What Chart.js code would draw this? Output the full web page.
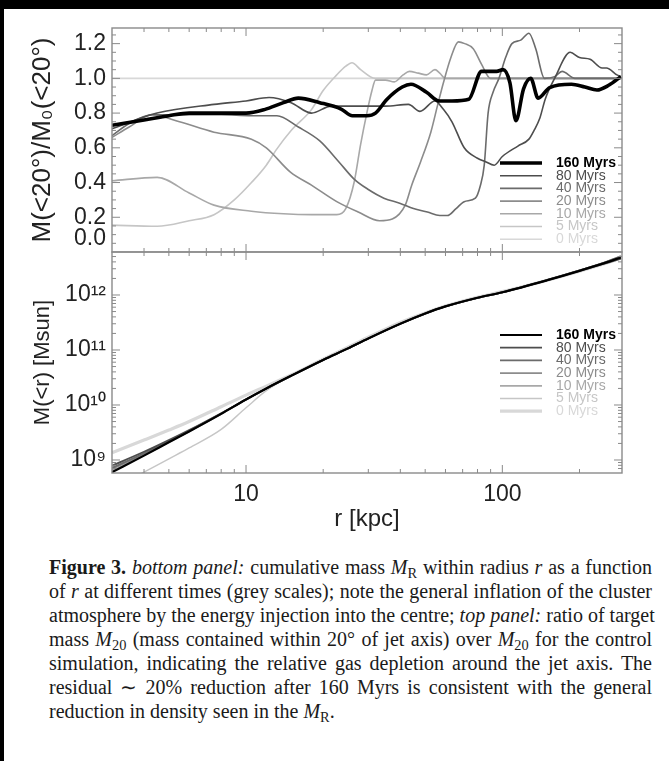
<!DOCTYPE html>
<html>
<head>
<meta charset="utf-8">
<title>Figure 3</title>
<script src="https://cdn.jsdelivr.net/npm/chart.js@4.4.1/dist/chart.umd.min.js"></script>
<style>
  html, body { margin: 0; padding: 0; }
  body { width: 669px; height: 761px; background: #000; position: relative; overflow: hidden; }
  .sheet { position: absolute; left: 4px; top: 9px; right: 0; bottom: 0; background: #fff; }
  #chartBox { position: absolute; left: 0; top: 0; width: 669px; height: 540px; }
  .caption {
    position: absolute; left: 49px; top: 555px; width: 603px;
    font-family: 'Liberation Serif', 'Times New Roman', serif;
    font-size: 20px; line-height: 24px; color: #1a1a1a;
  }
  .caption div { text-align: justify; text-align-last: justify; white-space: nowrap; }
  .caption div.last { text-align-last: left; }
  .caption sub { font-size: 0.72em; line-height: 0; vertical-align: -0.3em; }
</style>
</head>
<body>
<div class="sheet"></div>
<div id="chartBox"><canvas id="massChart" width="669" height="540"></canvas></div>
<div class="caption">
  <div><b>Figure 3.</b> <i>bottom panel:</i> cumulative mass <i>M</i><sub>R</sub> within radius <i>r</i> as a function</div>
  <div>of <i>r</i> at different times (grey scales); note the general inflation of the cluster</div>
  <div>atmosphere by the energy injection into the centre; <i>top panel:</i> ratio of target</div>
  <div>mass <i>M</i><sub>20</sub> (mass contained within 20° of jet axis) over <i>M</i><sub>20</sub> for the control</div>
  <div>simulation, indicating the relative gas depletion around the jet axis. The</div>
  <div>residual ∼ 20% reduction after 160 Myrs is consistent with the general</div>
  <div class="last">reduction in density seen in the <i>M</i><sub>R</sub>.</div>
</div>
<script>
  const TIME_LABELS = ['160 Myrs', '80 Myrs', '40 Myrs', '20 Myrs', '10 Myrs', '5 Myrs', '0 Myrs'];
  const GREYS = ['#000000', '#4d4d4d', '#6b6b6b', '#8c8c8c', '#a8a8a8', '#c6c6c6', '#d8d8d8'];
  const TOP_WIDTHS = [3.6, 1.6, 1.6, 1.6, 1.6, 1.6, 1.6];
  const BOTTOM_WIDTHS = [2.2, 1.8, 1.8, 1.8, 1.8, 1.4, 3.2];

  // top panel: M(<20°)/M0(<20°) against r [kpc]
  const RATIO_TICKS = [0, 0.2, 0.4, 0.6, 0.8, 1.0, 1.2];

  const r160 = [3, 4, 5, 6, 8, 10, 11.8, 14, 16, 19.4, 23.5, 26, 29.6, 32, 35.5, 40.7, 44, 50.6, 56.7, 63.6, 74, 83, 95, 100.7, 107, 113, 121, 129, 138, 153, 186, 210, 234, 260, 290];
  const ratio160 = [0.73, 0.76, 0.785, 0.80, 0.80, 0.80, 0.82, 0.86, 0.886, 0.86, 0.823, 0.785, 0.785, 0.80, 0.88, 0.95, 0.966, 0.92, 0.87, 0.87, 0.88, 1.04, 1.04, 1.05, 0.975, 0.756, 0.94, 1.0, 0.886, 0.947, 0.966, 0.95, 0.933, 0.96, 1.01];

  const r80 = [3, 4.5, 7.5, 10, 12.3, 15, 18, 21.5, 28, 35, 43, 47.7, 54.6, 59, 63.6, 71, 80, 86, 93, 100, 115, 127, 133, 140, 147, 160, 184, 200, 220, 245, 255, 280, 290];
  const ratio80 = [0.71, 0.80, 0.85, 0.87, 0.89, 0.86, 0.80, 0.84, 0.84, 0.84, 0.85, 0.81, 0.87, 0.82, 0.75, 0.60, 0.54, 0.52, 0.50, 0.55, 0.61, 0.65, 0.70, 0.77, 0.88, 1.0, 1.15, 1.12, 1.11, 1.06, 1.06, 1.02, 1.01];

  const r40 = [3, 3.5, 4.3, 6, 8, 10.5, 13.2, 16, 19.4, 23, 26.4, 30, 34.5, 40, 45, 51, 57, 61, 66, 71, 78.5, 82, 85, 88, 92, 97, 103, 109, 118, 127, 135, 146, 160, 171, 192, 240, 290];
  const ratio40 = [0.67, 0.74, 0.79, 0.79, 0.79, 0.785, 0.785, 0.72, 0.64, 0.52, 0.42, 0.36, 0.31, 0.28, 0.25, 0.23, 0.21, 0.21, 0.25, 0.29, 0.31, 0.38, 0.5, 0.8, 0.92, 1.0, 1.12, 1.2, 1.22, 1.26, 1.17, 1.0, 1.01, 1.04, 1.0, 1.0, 1.0];

  const r20 = [3, 3.5, 4.3, 5.5, 7.5, 10.5, 12, 14.9, 18, 22.6, 27.4, 33.2, 37.2, 41.8, 44.3, 48, 52.6, 56, 58.9, 63, 67.4, 71.3, 77, 83, 89.8, 100, 290];
  const ratio20 = [0.66, 0.72, 0.79, 0.75, 0.69, 0.65, 0.60, 0.46, 0.385, 0.29, 0.23, 0.18, 0.19, 0.27, 0.385, 0.52, 0.69, 0.85, 0.975, 1.12, 1.21, 1.2, 1.17, 1.08, 1.0, 1.0, 1.0];

  const r10 = [3, 4.5, 6, 7.5, 10.5, 14, 18, 22.6, 24.5, 26.4, 28, 29.6, 31, 32, 35, 37.9, 41, 43.4, 47, 50.6, 54.6, 57, 60, 100, 290];
  const ratio10 = [0.41, 0.43, 0.34, 0.27, 0.235, 0.22, 0.215, 0.215, 0.25, 0.40, 0.62, 0.80, 0.93, 0.99, 0.99, 0.98, 1.02, 1.04, 1.03, 1.02, 1.05, 1.03, 1.0, 1.0, 1.0];

  const r5 = [3, 4.5, 6, 7.5, 9, 10.5, 12, 13.2, 15, 18, 20, 22.6, 24.5, 25.9, 28, 31.9, 40, 290];
  const ratio5 = [0.155, 0.148, 0.18, 0.215, 0.30, 0.40, 0.50, 0.594, 0.70, 0.82, 0.93, 1.02, 1.07, 1.09, 1.05, 1.0, 1.0, 1.0];

  const r0 = [3, 293];
  const ratio0 = [1.0, 1.0];

  // bottom panel: M(<r) [Msun]
  const massR = [3, 4, 5, 6, 8, 10, 12, 15, 20, 25, 30, 40, 50, 60, 80, 100, 150, 200, 250, 290];
  const mass160 = [6.0e8, 1.2e9, 2.1e9, 3.3e9, 6.9e9, 1.26e10, 2.0e10, 3.4e10, 6.6e10, 1.07e11, 1.62e11, 3.0e11, 4.6e11, 6.2e11, 8.9e11, 1.12e12, 1.86e12, 2.75e12, 3.8e12, 4.8e12];
  const mass80 = [7.9e8, 1.41e9, 2.3e9, 3.5e9, 7.1e9, 1.26e10, 2.0e10, 3.4e10, 6.6e10, 1.07e11, 1.62e11, 3.0e11, 4.6e11, 6.2e11, 8.9e11, 1.12e12, 1.86e12, 2.75e12, 3.7e12, 4.6e12];
  const mass40 = [7.2e8, 1.32e9, 2.2e9, 3.4e9, 7.0e9, 1.26e10, 2.0e10, 3.4e10, 6.6e10, 1.07e11, 1.62e11, 3.0e11, 4.6e11, 6.2e11, 8.9e11, 1.12e12, 1.88e12, 2.8e12, 3.9e12, 5.1e12];
  const mass20 = [6.8e8, 1.27e9, 2.15e9, 3.35e9, 6.9e9, 1.26e10, 2.0e10, 3.4e10, 6.6e10, 1.07e11, 1.62e11, 3.0e11, 4.6e11, 6.2e11, 8.9e11, 1.12e12, 1.88e12, 2.8e12, 3.9e12, 5.0e12];
  const mass10 = [6.3e8, 1.22e9, 2.1e9, 3.3e9, 6.9e9, 1.26e10, 2.0e10, 3.4e10, 6.6e10, 1.07e11, 1.62e11, 3.0e11, 4.6e11, 6.2e11, 8.9e11, 1.12e12, 1.87e12, 2.78e12, 3.85e12, 4.9e12];
  const mass5 = [3.0e8, 6.0e8, 1.05e9, 1.66e9, 3.6e9, 8.9e9, 1.82e10, 3.4e10, 6.8e10, 1.1e11, 1.66e11, 3.1e11, 4.7e11, 6.3e11, 9.1e11, 1.15e12, 1.86e12, 2.75e12, 3.8e12, 4.9e12];
  const mass0 = [1.35e9, 2.3e9, 3.5e9, 5.0e9, 9.3e9, 1.51e10, 2.2e10, 3.5e10, 6.8e10, 1.12e11, 1.7e11, 3.16e11, 4.7e11, 6.3e11, 9.1e11, 1.15e12, 1.86e12, 2.7e12, 3.7e12, 4.7e12];

  const AXIS_COLOR = '#8a8a8a';
  const TEXT_COLOR = '#222222';
  const SANS = '"Liberation Sans", Arial, Helvetica, sans-serif';
  const SUPERSCRIPTS = { '0': '⁰', '1': '¹', '2': '²', '3': '³', '4': '⁴', '5': '⁵', '6': '⁶', '7': '⁷', '8': '⁸', '9': '⁹' };

  function toPoints(rs, vs) {
    return rs.map((r, i) => ({ x: r, y: vs[i] }));
  }

  function mantissa(v) {
    return v / Math.pow(10, Math.floor(Math.log10(v) + 1e-9));
  }

  function isWhole(m) {
    return Math.abs(m - Math.round(m)) < 1e-6;
  }

  const topSeries = [[r160, ratio160], [r80, ratio80], [r40, ratio40], [r20, ratio20], [r10, ratio10], [r5, ratio5], [r0, ratio0]];
  const bottomSeries = [mass160, mass80, mass40, mass20, mass10, mass5, mass0];

  const datasets = [];
  topSeries.forEach(([rs, vs], i) => {
    datasets.push({
      label: TIME_LABELS[i],
      data: toPoints(rs, vs),
      yAxisID: 'yTop',
      borderColor: GREYS[i],
      borderWidth: TOP_WIDTHS[i]
    });
  });
  bottomSeries.forEach((ms, i) => {
    datasets.push({
      label: TIME_LABELS[i],
      data: toPoints(massR, ms),
      yAxisID: 'yBot',
      borderColor: GREYS[i],
      borderWidth: BOTTOM_WIDTHS[i]
    });
  });

  function strokeLine(ctx, x1, y1, x2, y2) {
    ctx.beginPath();
    ctx.moveTo(x1, y1);
    ctx.lineTo(x2, y2);
    ctx.stroke();
  }

  // frame of each panel with inward tick marks on all four sides
  const panelFrame = {
    id: 'panelFrame',
    afterDatasetsDraw(chart) {
      const { ctx, scales } = chart;
      const x = scales.x;
      ctx.save();
      ctx.strokeStyle = AXIS_COLOR;
      [scales.yTop, scales.yBot].forEach((y) => {
        ctx.lineWidth = 1.4;
        ctx.strokeRect(x.left, y.top, x.right - x.left, y.bottom - y.top);
        ctx.lineWidth = 1;

        x.ticks.forEach((t) => {
          const m = mantissa(t.value);
          if (!isWhole(m)) return;
          const px = x.getPixelForValue(t.value);
          if (px <= x.left + 1 || px >= x.right - 1) return;
          const len = Math.round(m) === 1 ? 8 : 4;
          strokeLine(ctx, px, y.bottom, px, y.bottom - len);
          strokeLine(ctx, px, y.top, px, y.top + len);
        });

        const marks = [];
        if (y.type === 'linear') {
          for (let k = 1; k * 0.05 < y.max; k++) {
            marks.push({ v: k * 0.05, major: k % 4 === 0 });
          }
        } else {
          y.ticks.forEach((t) => {
            const m = mantissa(t.value);
            if (isWhole(m)) marks.push({ v: t.value, major: Math.round(m) === 1 });
          });
        }
        marks.forEach(({ v, major }) => {
          const py = y.getPixelForValue(v);
          if (py <= y.top + 1 || py >= y.bottom - 1) return;
          const len = major ? 8 : 4;
          strokeLine(ctx, x.left, py, x.left + len, py);
          strokeLine(ctx, x.right, py, x.right - len, py);
        });
      });
      ctx.restore();
    }
  };

  // legend drawn inside each panel
  const panelLegend = {
    id: 'panelLegend',
    afterDatasetsDraw(chart) {
      const { ctx, chartArea, scales } = chart;
      const groups = [
        { scale: scales.yTop, first: 135, widths: TOP_WIDTHS },
        { scale: scales.yBot, first: 83, widths: BOTTOM_WIDTHS }
      ];
      ctx.save();
      ctx.textBaseline = 'middle';
      ctx.textAlign = 'left';
      groups.forEach((g) => {
        TIME_LABELS.forEach((label, i) => {
          const y = g.scale.top + g.first + i * 12.7;
          ctx.strokeStyle = GREYS[i];
          ctx.lineWidth = g.widths[i];
          strokeLine(ctx, chartArea.right - 122, y, chartArea.right - 80, y);
          ctx.font = (i === 0 ? '600 ' : '') + '14px ' + SANS;
          ctx.fillStyle = GREYS[i];
          ctx.fillText(label, chartArea.right - 66, y);
        });
      });
      ctx.restore();
    }
  };

  new Chart(document.getElementById('massChart'), {
    type: 'line',
    data: { datasets },
    options: {
      responsive: false,
      animation: false,
      layout: { padding: { top: 28, right: 47, left: 0, bottom: 0 } },
      plugins: {
        legend: { display: false },
        tooltip: { enabled: false }
      },
      elements: {
        point: { radius: 0 },
        line: { cubicInterpolationMode: 'monotone' }
      },
      scales: {
        x: {
          type: 'logarithmic',
          position: 'bottom',
          min: 3,
          max: 293,
          grid: { display: false, drawTicks: false },
          border: { display: false },
          ticks: {
            autoSkip: false,
            maxRotation: 0,
            padding: 8,
            color: TEXT_COLOR,
            font: { family: SANS, size: 23 },
            callback(v) {
              return v === 10 || v === 100 ? String(v) : '';
            }
          },
          title: {
            display: true,
            text: 'r [kpc]',
            color: TEXT_COLOR,
            font: { family: SANS, size: 24 },
            padding: { top: 0, bottom: 6 }
          },
          afterFit(scale) { scale.height = 67; }
        },
        yBot: {
          type: 'logarithmic',
          position: 'left',
          stack: 'panels',
          stackWeight: 221,
          min: 5.8e8,
          max: 6.05e12,
          grid: { display: false, drawTicks: false },
          border: { display: false },
          ticks: {
            autoSkip: false,
            padding: 6,
            color: TEXT_COLOR,
            font: { family: SANS, size: 23 },
            callback(v) {
              const m = mantissa(v);
              if (!isWhole(m) || Math.round(m) !== 1) return '';
              const exp = String(Math.round(Math.log10(v)));
              return '10' + exp.split('').map((c) => SUPERSCRIPTS[c]).join('');
            }
          },
          title: {
            display: true,
            text: 'M(<r) [Msun]',
            color: TEXT_COLOR,
            font: { family: SANS, size: 22 },
            padding: { top: 30, bottom: 0 }
          },
          afterFit(scale) { scale.width = 112; }
        },
        yTop: {
          type: 'linear',
          position: 'left',
          stack: 'panels',
          stackWeight: 224,
          min: 0,
          max: 1.29,
          grid: { display: false, drawTicks: false },
          border: { display: false },
          afterBuildTicks(scale) {
            scale.ticks = RATIO_TICKS.map((v) => ({ value: v }));
          },
          ticks: {
            autoSkip: false,
            padding: 6,
            color: TEXT_COLOR,
            font: { family: SANS, size: 23 },
            callback(v) {
              return v === 0 ? ['0.0', ''] : v.toFixed(1);
            }
          },
          title: {
            display: true,
            text: 'M(<20°)/M₀(<20°)',
            color: TEXT_COLOR,
            font: { family: SANS, size: 26 },
            padding: { top: 27, bottom: 0 }
          },
          afterFit(scale) { scale.width = 112; }
        }
      }
    },
    plugins: [panelFrame, panelLegend]
  });
</script>
</body>
</html>
